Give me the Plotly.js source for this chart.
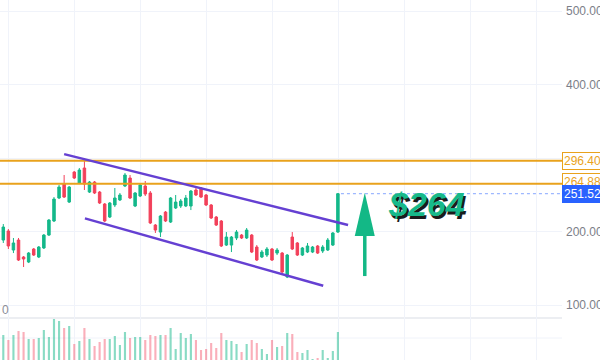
<!DOCTYPE html>
<html>
<head>
<meta charset="utf-8">
<script src="https://cdn.plot.ly/plotly-3.0.1.min.js"></script>
<style>html,body{margin:0;padding:0;background:#fff;}#chart{width:600px;height:360px;}</style>
</head>
<body>
<div id="chart"></div>
<script>
// ---- data ----
const openP  = [188.4,200.7,174.8,188.4,165.3,158.5,176.2,165.3,177.6,195.2,214.3,245.6,264.6,240.1,280.9,266.0,286.4,253.7,267.3,253.7,237.4,219.7,236.1,242.9,261.9,272.8,234.7,248.3,261.9,252.4,208.8,199.3,226.5,212.9,232.0,234.7,234.7,234.7,256.5,259.2,249.7,236.1,219.7,214.3,181.6,181.6,191.2,195.2,191.2,195.2,178.9,165.3,168.0,176.2,170.7,170.7,138.1,192.5,184.4,168.0,172.1,172.1,180.3,173.5,174.8,181.6,199.3];
const highP  = [210.2,203.4,191.2,191.2,166.7,172.1,177.6,180.3,196.6,217.0,246.9,263.3,276.9,261.9,282.3,286.4,300.0,268.7,268.7,255.1,238.8,240.1,259.2,252.4,279.6,276.9,253.7,264.6,268.7,255.1,210.2,222.4,227.9,246.9,249.7,244.2,249.7,256.5,260.5,260.5,251.0,237.4,221.1,215.6,199.3,193.9,202.0,196.6,204.8,196.6,181.6,174.8,178.9,177.6,177.6,172.1,169.4,199.3,185.7,178.9,184.4,180.3,181.6,181.6,191.2,199.3,252.4];
const lowP   = [184.4,176.2,170.7,159.9,151.7,157.1,166.7,163.9,176.2,193.9,212.9,244.2,245.6,238.8,271.4,264.6,256.5,252.4,251.0,237.4,212.9,218.4,233.3,241.5,260.5,244.2,233.3,246.9,248.3,210.2,198.0,192.5,212.9,211.6,230.6,232.0,233.3,229.2,248.3,245.6,234.7,217.0,207.5,178.9,180.3,172.1,188.4,189.8,189.8,170.7,159.9,163.9,165.3,159.9,168.0,143.5,136.7,174.8,166.7,166.7,170.7,170.7,169.4,170.7,173.5,180.3,198.0];
const closeP = [206.1,180.3,184.4,161.2,162.6,170.7,168.0,178.9,195.2,215.6,244.2,260.5,246.9,260.5,272.8,283.7,264.6,267.3,252.4,238.8,214.3,238.8,245.6,249.7,276.9,245.6,252.4,263.3,251.0,211.6,202.0,221.1,214.3,245.6,240.1,241.5,245.6,255.1,249.7,246.9,236.1,218.4,208.8,180.3,192.5,192.5,199.3,191.2,202.0,172.1,161.2,172.1,176.2,161.2,174.8,144.9,168.0,176.2,168.0,177.6,180.3,178.9,170.7,178.9,188.4,198.0,251.52];
const volumeM = [25,20,25,29,28,21,21,22,30,23,41,39,32,34,16,19,32,21,14,18,21,21,24,15,28,22,23,23,20,25,24,25,25,32,11,27,22,26,20,10,11,17,12,27,20,19,16,8,16,20,17,11,6,20,13,14,27,26,8,7,10,1,2,10,2,9,28];
const priceTicks = [100, 200, 300, 400, 500];
const priceTickText = ['100.00', '200.00', '', '400.00', '500.00'];
const levelPrices = [296.40, 264.88];
const lastPrice = 251.52;
const upperChannelX = [12.0, 68.0], upperChannelY = [305.3, 208.8];
const lowerChannelX = [16.1, 63.1], lowerChannelY = [217.9, 126.2];
const arrowX = 71.3, arrowHalfW = 1.97, arrowTail = 139.4, arrowHeadBase = 193.8, arrowTip = 252.7;
const calloutText = '$264', calloutX = 83.4, calloutY = 237.3;

// ---- styles ----
const UP = '#14b88a', DOWN = '#f2405a';
const UPV = 'rgba(20,184,138,0.5)', DOWNV = 'rgba(242,64,90,0.42)';
const ORANGE = '#e9a21c', PURPLE = '#6540d2', BLUE = '#2962ff', ARROW = '#13b886';
const GRID = '#f0f3fa';

const idx = openP.map((_, i) => i);
const volColors = openP.map((o, i) => closeP[i] >= o ? UPV : DOWNV);

const traces = [
  {type:'bar', x: idx, y: volumeM, yaxis:'y2', marker:{color: volColors}, width: 0.42, hoverinfo:'skip'},
  {type:'candlestick', x: idx, open: openP, high: highP, low: lowP, close: closeP,
   increasing:{line:{color:UP, width:1}, fillcolor:UP},
   decreasing:{line:{color:DOWN, width:1}, fillcolor:DOWN},
   whiskerwidth: 0, hoverinfo:'skip'}
];

const shapes = [
  {type:'line', xref:'paper', yref:'paper', x0:0, x1:1, y0:1-318/360, y1:1-318/360, line:{color:'#e6e8ee', width:1.5}, layer:'below'},
  {type:'line', xref:'paper', yref:'paper', x0:0, x1:1, y0:1-338/360, y1:1-338/360, line:{color:GRID, width:1}, layer:'below'},
  ...levelPrices.map(p => ({type:'line', xref:'paper', yref:'y', x0:0, x1:1, y0:p, y1:p, line:{color:ORANGE, width:2}})),
  {type:'line', xref:'x', yref:'y', x0: idx[idx.length-1] + 0.6, x1: 111, y0:lastPrice, y1:lastPrice, line:{color:'rgba(41,98,255,0.45)', width:1.2, dash:'dot'}},
  {type:'line', xref:'x', yref:'y', x0:upperChannelX[0], x1:upperChannelX[1], y0:upperChannelY[0], y1:upperChannelY[1], line:{color:PURPLE, width:2.5}},
  {type:'line', xref:'x', yref:'y', x0:lowerChannelX[0], x1:lowerChannelX[1], y0:lowerChannelY[0], y1:lowerChannelY[1], line:{color:PURPLE, width:2.5}},
  {type:'line', xref:'x', yref:'y', x0:arrowX, x1:arrowX, y0:arrowTail, y1:arrowHeadBase + 2, line:{color:ARROW, width:3.5}},
  {type:'path', xref:'x', yref:'y', path:`M ${arrowX-arrowHalfW},${arrowHeadBase} L ${arrowX+arrowHalfW},${arrowHeadBase} L ${arrowX},${arrowTip} Z`, fillcolor:ARROW, line:{width:0}}
];

const annotations = [
  {xref:'paper', yref:'y', x:1, y:levelPrices[0], xanchor:'left', yanchor:'middle', text: levelPrices[0].toFixed(2), showarrow:false,
   font:{family:'Liberation Sans, Arial, sans-serif', size:12, color:ORANGE}, bgcolor:'#fff', bordercolor:ORANGE, borderwidth:1, borderpad:1},
  {xref:'paper', yref:'y', x:1, y:levelPrices[1] + 2, xanchor:'left', yanchor:'middle', text: levelPrices[1].toFixed(2), showarrow:false,
   font:{family:'Liberation Sans, Arial, sans-serif', size:12, color:ORANGE}, bgcolor:'#fff', bordercolor:ORANGE, borderwidth:1, borderpad:1},
  {xref:'paper', yref:'y', x:1, y:lastPrice, xanchor:'left', yanchor:'middle', text: lastPrice.toFixed(2), showarrow:false,
   font:{family:'Liberation Sans, Arial, sans-serif', size:12, color:'#fff'}, bgcolor:BLUE, bordercolor:BLUE, borderwidth:1, borderpad:1},
  {xref:'x', yref:'y', x:calloutX, y:calloutY, text:calloutText, showarrow:false,
   font:{family:'Liberation Sans, Arial, sans-serif', size:34, color:'#17b98a', weight:900, style:'italic', shadow:'2px 3px 0px #1b1b1b'}},
  {xref:'paper', yref:'paper', x:0, y:1-310/360, xanchor:'left', yanchor:'middle', text:'0', showarrow:false,
   font:{family:'Liberation Sans, Arial, sans-serif', size:12, color:'#8a8d96'}}
];

const layout = {
  width:600, height:360,
  margin:{l:0, r:38, t:0, b:0},
  paper_bgcolor:'#fff', plot_bgcolor:'#fff',
  showlegend:false,
  xaxis:{range:[-0.65, 110.2], showticklabels:false, tick0:1.1, dtick:13, showgrid:true, gridcolor:GRID, gridwidth:1,
         zeroline:false, showline:false, ticks:'', rangeslider:{visible:false}, fixedrange:true},
  yaxis:{side:'right', range:[25.2, 515], tickvals:priceTicks, ticktext:priceTickText,
         showgrid:true, gridcolor:GRID, gridwidth:1, zeroline:false, showline:false, ticks:'', ticklabelstandoff:3,
         tickfont:{family:'Liberation Sans, Arial, sans-serif', size:12, color:'#7b7e88'}, fixedrange:true},
  yaxis2:{overlaying:'y', range:[0, 360], visible:false, fixedrange:true},
  shapes, annotations
};

Plotly.newPlot('chart', traces, layout, {displayModeBar:false, staticPlot:true});
</script>
</body>
</html>
